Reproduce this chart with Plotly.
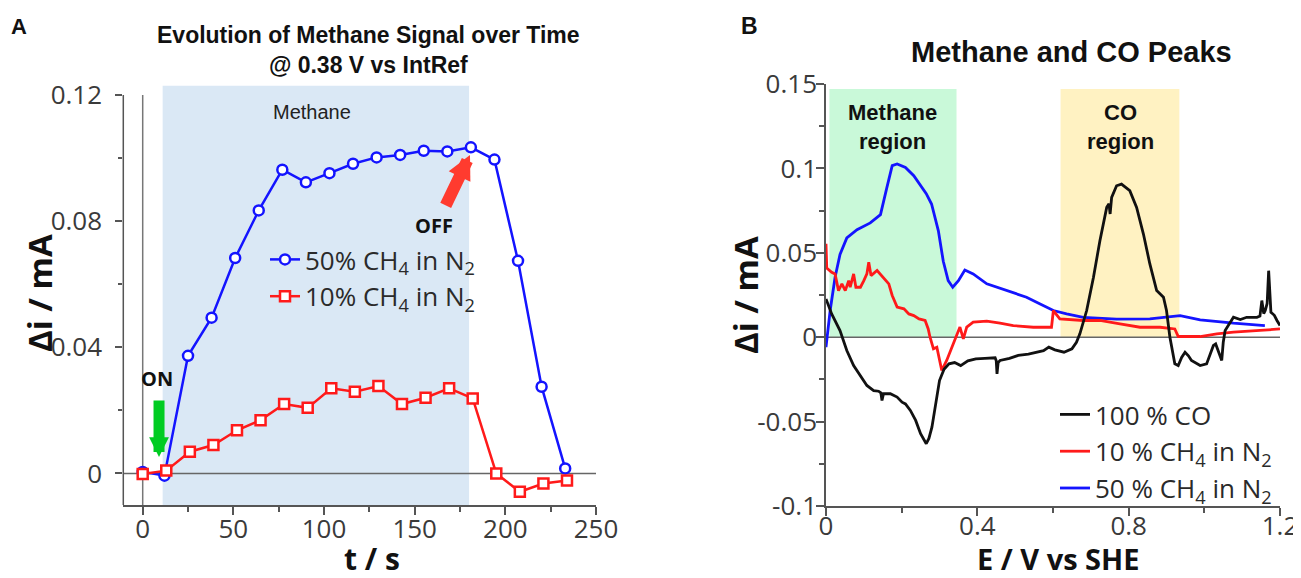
import plotly.graph_objects as go

W, H = 1301, 578
OFF = 8  # page body margin in the browser

def fx(px):
    return (px - OFF) / W

def fy(py):
    return 1 - (py - OFF) / H

# ---------------- Panel A data ----------------
t_50 = [0, 12, 25, 38, 51, 64, 77, 90, 103, 116, 129, 142, 155, 168, 181, 194, 207, 220, 233]
i_50 = [0.0005, -0.0007, 0.0373, 0.0494, 0.0683, 0.0834, 0.0963, 0.0923, 0.0952, 0.0982,
        0.1002, 0.1010, 0.1023, 0.1021, 0.1034, 0.0995, 0.0674, 0.0275, 0.0016]
t_10 = [0, 13, 26, 39, 52, 65, 78, 91, 104, 117, 130, 143, 156, 169, 182, 195, 208, 221, 234]
i_10 = [-0.0002, 0.0009, 0.0069, 0.0090, 0.0137, 0.0169, 0.0220, 0.0208, 0.0270, 0.0259,
        0.0277, 0.0220, 0.0240, 0.0270, 0.0238, 0.0000, -0.0058, -0.0032, -0.0022]

# ---------------- Panel B data ----------------
co_E = [0.000, 0.015, 0.037, 0.055, 0.073, 0.095, 0.108, 0.126, 0.139, 0.145, 0.148, 0.152,
        0.170, 0.188, 0.201, 0.210, 0.223, 0.237, 0.250, 0.265, 0.272, 0.280, 0.290, 0.300,
        0.312, 0.325, 0.340, 0.356, 0.375, 0.396, 0.420, 0.447, 0.450, 0.452, 0.455, 0.460,
        0.485, 0.508, 0.535, 0.559, 0.575, 0.589, 0.605, 0.629, 0.650, 0.662, 0.671, 0.689,
        0.707, 0.724, 0.742, 0.748, 0.751, 0.755, 0.768, 0.781, 0.803, 0.821, 0.839, 0.856,
        0.874, 0.892, 0.900, 0.909, 0.922, 0.931, 0.940, 0.949, 0.958, 0.966, 0.989, 1.006,
        1.024, 1.030, 1.037, 1.046, 1.050, 1.055, 1.077, 1.095, 1.112, 1.139, 1.147, 1.152,
        1.157, 1.161, 1.166, 1.170, 1.176, 1.185, 1.192, 1.200]
co_i = [0.0227, 0.0138, 0.0039, -0.0079, -0.0168, -0.0247, -0.0286, -0.0316, -0.0320, -0.0330,
        -0.0375, -0.0335, -0.0335, -0.0355, -0.0385, -0.0395, -0.0434, -0.0493, -0.0572, -0.0631,
        -0.0600, -0.0533, -0.0400, -0.0257, -0.0190, -0.0158, -0.0150, -0.0168, -0.0140, -0.0128,
        -0.0125, -0.0122, -0.0140, -0.0217, -0.0150, -0.0138, -0.0125, -0.0108, -0.0100, -0.0089,
        -0.0080, -0.0059, -0.0075, -0.0089, -0.0069, -0.0030, 0.0020, 0.0158, 0.0355, 0.0572,
        0.0769, 0.0790, 0.0730, 0.0828, 0.0897, 0.0907, 0.0868, 0.0769, 0.0611, 0.0434,
        0.0276, 0.0237, 0.0158, 0.0000, -0.0158, -0.0168, -0.0120, -0.0089, -0.0110, -0.0138,
        -0.0168, -0.0158, -0.0049, -0.0040, -0.0079, -0.0138, -0.0030, 0.0039, 0.0118, 0.0105,
        0.0118, 0.0118, 0.0125, 0.0217, 0.0140, 0.0158, 0.0200, 0.0394, 0.0148, 0.0130,
        0.0099, 0.0069]

ch4_10_E = [0.000, 0.002, 0.015, 0.024, 0.033, 0.042, 0.051, 0.060, 0.064, 0.073, 0.079, 0.091,
            0.100, 0.108, 0.113, 0.119, 0.135, 0.152, 0.166, 0.175, 0.188, 0.206, 0.219, 0.232,
            0.246, 0.262, 0.270, 0.275, 0.284, 0.293, 0.306, 0.319, 0.337, 0.354, 0.363, 0.372,
            0.389, 0.425, 0.460, 0.495, 0.548, 0.596, 0.601, 0.618, 0.680, 0.724, 0.777, 0.830,
            0.883, 0.922, 0.931, 0.989, 1.033, 1.077, 1.147, 1.200]
ch4_10_i = [0.0553, 0.0410, 0.0385, 0.0375, 0.0276, 0.0316, 0.0276, 0.0335, 0.0296, 0.0375,
            0.0296, 0.0296, 0.0335, 0.0375, 0.0444, 0.0365, 0.0395, 0.0355, 0.0316, 0.0247,
            0.0178, 0.0168, 0.0138, 0.0128, 0.0108, 0.0099, 0.0050, 0.0000, -0.0069, -0.0060,
            -0.0197, -0.0138, -0.0040, 0.0060, -0.0010, 0.0060, 0.0089, 0.0095, 0.0083, 0.0069,
            0.0059, 0.0059, 0.0158, 0.0108, 0.0099, 0.0099, 0.0079, 0.0059, 0.0059, 0.0049,
            0.0004, 0.0004, 0.0020, 0.0030, 0.0040, 0.0049]

ch4_50_E = [0.000, 0.011, 0.024, 0.037, 0.055, 0.082, 0.117, 0.144, 0.161, 0.175, 0.188, 0.210,
            0.232, 0.250, 0.265, 0.279, 0.297, 0.310, 0.323, 0.335, 0.350, 0.367, 0.389, 0.425,
            0.478, 0.530, 0.566, 0.601, 0.636, 0.680, 0.768, 0.856, 0.936, 0.989, 1.077, 1.160]
ch4_50_i = [-0.0059, 0.0158, 0.0355, 0.0490, 0.0588, 0.0637, 0.0677, 0.0726, 0.0888, 0.1016,
            0.1026, 0.1006, 0.0957, 0.0897, 0.0850, 0.0789, 0.0630, 0.0450, 0.0335, 0.0296,
            0.0335, 0.0398, 0.0375, 0.0316, 0.0276, 0.0237, 0.0197, 0.0158, 0.0138, 0.0118,
            0.0107, 0.0108, 0.0128, 0.0103, 0.0083, 0.0069]

# tick labels
a_xticks = [0, 50, 100, 150, 200, 250]
a_yticks = [0, 0.04, 0.08, 0.12]
a_yticklabels = ["0", "0.04", "0.08", "0.12"]
b_xticks = [0, 0.4, 0.8, 1.2]
b_xticklabels = ["0", "0.4", "0.8", "1.2"]
b_yticks = [-0.1, -0.05, 0, 0.05, 0.1, 0.15]
b_yticklabels = ["-0.1", "-0.05", "0", "0.05", "0.1", "0.15"]

BLUE = "#1414ff"
RED = "#ff1a1a"
BLACK = "#111111"
AXC = "#555555"
TICKFONT = dict(family="Open Sans", size=26, color="#3a3a3a")

fig = go.Figure()

fig.add_trace(go.Scatter(
    x=t_50, y=i_50, mode="lines+markers", name="50% CH<sub>4</sub> in N<sub>2</sub>",
    line=dict(color=BLUE, width=2.5),
    marker=dict(symbol="circle", size=10, color="white", line=dict(color=BLUE, width=2.5)),
    xaxis="x", yaxis="y", legend="legend"))
fig.add_trace(go.Scatter(
    x=t_10, y=i_10, mode="lines+markers", name="10% CH<sub>4</sub> in N<sub>2</sub>",
    line=dict(color=RED, width=2.5),
    marker=dict(symbol="square", size=10, color="white", line=dict(color=RED, width=2.5)),
    xaxis="x", yaxis="y", legend="legend"))

fig.add_trace(go.Scatter(
    x=ch4_50_E, y=ch4_50_i, mode="lines", name="50 % CH<sub>4</sub> in N<sub>2</sub>",
    line=dict(color=BLUE, width=2.8), xaxis="x2", yaxis="y2", legend="legend2"))
fig.add_trace(go.Scatter(
    x=ch4_10_E, y=ch4_10_i, mode="lines", name="10 % CH<sub>4</sub> in N<sub>2</sub>",
    line=dict(color=RED, width=2.8), xaxis="x2", yaxis="y2", legend="legend2"))
fig.add_trace(go.Scatter(
    x=co_E, y=co_i, mode="lines", name="100 % CO",
    line=dict(color=BLACK, width=2.8), xaxis="x2", yaxis="y2", legend="legend2"))

axis_common = dict(showgrid=False, zeroline=False, ticks="outside", tickcolor=AXC,
                   tickwidth=1.5, tickfont=TICKFONT, automargin=False)

fig.update_layout(
    width=W, height=H, margin=dict(l=0, r=0, t=0, b=0, pad=0, autoexpand=False),
    paper_bgcolor="white", plot_bgcolor="rgba(0,0,0,0)",
    xaxis=dict(domain=[fx(123.3), fx(596)], range=[-10.7, 250], anchor="y",
               showline=True, linecolor=AXC, linewidth=1.5, ticklen=8, ticklabelstandoff=-8,
               tickvals=a_xticks, minor=dict(dtick=25, tick0=0, ticks="outside", ticklen=5,
                                             tickcolor=AXC, tickwidth=1.5),
               **axis_common),
    yaxis=dict(domain=[fy(505), fy(85.5)], range=[-0.01, 0.123], anchor="x",
               showline=False, ticklen=7, ticklabelstandoff=8,
               tickvals=a_yticks, ticktext=a_yticklabels,
               minor=dict(dtick=0.02, tick0=0, ticks="outside", ticklen=4,
                          tickcolor=AXC, tickwidth=1.5),
               **axis_common),
    xaxis2=dict(domain=[fx(826), fx(1280)], range=[0, 1.2], anchor="y2",
                showline=True, linecolor=AXC, linewidth=1.5, ticklen=8, ticklabelstandoff=-12,
                tickvals=b_xticks, ticktext=b_xticklabels,
                minor=dict(dtick=0.2, tick0=0, ticks="outside", ticklen=5,
                           tickcolor=AXC, tickwidth=1.5),
                **axis_common),
    yaxis2=dict(domain=[fy(506), fy(84)], range=[-0.1, 0.15], anchor="x2",
                showline=True, linecolor=AXC, linewidth=1.5, ticklen=8, ticklabelstandoff=-6,
                tickvals=b_yticks, ticktext=b_yticklabels,
                minor=dict(dtick=0.025, tick0=0, ticks="outside", ticklen=5,
                           tickcolor=AXC, tickwidth=1.5),
                **axis_common),
    legend=dict(x=fx(265), y=fy(236), xanchor="left", yanchor="top",
                bgcolor="rgba(0,0,0,0)", font=dict(family="Open Sans", size=26, color="#2a2a2a"),
                traceorder="normal", tracegroupgap=0),
    legend2=dict(x=fx(1055), y=fy(391), xanchor="left", yanchor="top",
                 bgcolor="rgba(0,0,0,0)", font=dict(family="Open Sans", size=26, color="#2a2a2a"),
                 traceorder="reversed", tracegroupgap=0),
    showlegend=True,
)

shapes = [
    # Panel A methane shading
    dict(type="rect", xref="x", yref="y", x0=11, x1=180, y0=-0.01, y1=0.123,
         fillcolor="#dae8f5", line=dict(width=0), layer="below"),
    # Panel A zero lines
    dict(type="line", xref="x", yref="y", x0=-10.7, x1=250, y0=0, y1=0,
         line=dict(color="#666666", width=1.5), layer="below"),
    dict(type="line", xref="x", yref="y", x0=0, x1=0, y0=-0.01, y1=0.12,
         line=dict(color="#777777", width=1.5), layer="below"),
    # Panel A y-axis line
    dict(type="line", xref="x domain", yref="y", x0=0, x1=0, y0=-0.01, y1=0.12,
         line=dict(color=AXC, width=1.5)),
    # Panel B regions
    dict(type="rect", xref="x2", yref="y2", x0=0.009, x1=0.345, y0=0, y1=0.147,
         fillcolor="#c9f9d9", line=dict(width=0), layer="below"),
    dict(type="rect", xref="x2", yref="y2", x0=0.62, x1=0.934, y0=0, y1=0.147,
         fillcolor="#fff2c2", line=dict(width=0), layer="below"),
    dict(type="line", xref="x2", yref="y2", x0=0, x1=1.2, y0=0, y1=0,
         line=dict(color="#666666", width=1.5), layer="below"),
]
fig.update_layout(shapes=shapes)

def pann(text, x, y, size, bold=False, family="Liberation Sans", color="#111111", angle=0):
    return dict(text=("<b>%s</b>" % text) if bold else text, x=fx(x), y=fy(y),
                xref="paper", yref="paper", showarrow=False, xanchor="center", yanchor="middle",
                textangle=angle, font=dict(family=family, size=size, color=color))

annotations = [
    pann("A", 19, 27, 22, bold=True),
    pann("B", 749, 26, 23, bold=True),
    pann("Evolution of Methane Signal over Time<br>@ 0.38 V vs IntRef", 368, 50, 23, bold=True),
    pann("Methane and CO Peaks", 1071, 52, 29, bold=True),
    pann("Methane", 312, 112, 20, color="#222222"),
    pann("ON", 157, 378, 20, bold=True, family="Open Sans"),
    pann("OFF", 434, 225, 20, bold=True, family="Open Sans"),
    pann("Δi / mA", 39, 293, 33, bold=True, family="Open Sans", angle=-90),
    pann("Δi / mA", 746, 295, 33, bold=True, family="Open Sans", angle=-90),
    pann("t / s", 372, 558, 30, bold=True, family="Open Sans"),
    pann("E / V vs SHE", 1058, 558, 29, bold=True, family="Open Sans"),
    pann("Methane<br>region", 893, 127, 22, bold=True),
    pann("CO<br>region", 1120, 127, 22, bold=True),
    # arrows
    dict(text="", x=9.0, y=0.0052, xref="x", yref="y", showarrow=True, ax=0, ay=-58,
         arrowcolor="#00cc22", arrowwidth=11, arrowhead=2, arrowsize=0.36),
    dict(text="", x=180.5, y=0.101, xref="x", yref="y", showarrow=True, ax=-25, ay=52,
         arrowcolor="#ff3b2f", arrowwidth=12, arrowhead=2, arrowsize=0.4),
]
fig.update_layout(annotations=annotations)

fig.write_html("out.html")
